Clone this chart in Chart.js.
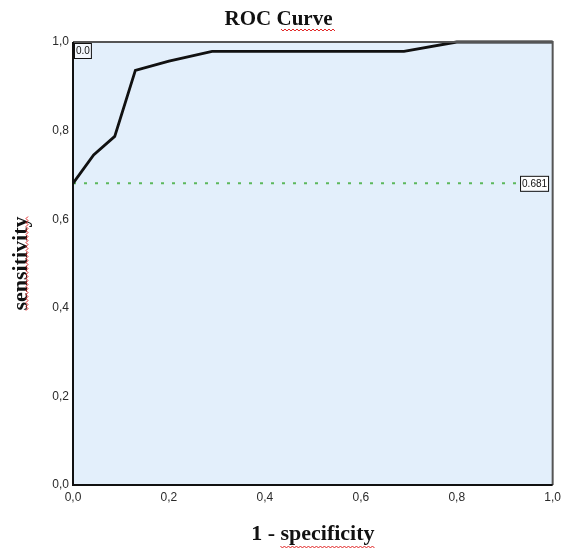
<!DOCTYPE html>
<html>
<head>
<meta charset="utf-8">
<script src="https://cdn.jsdelivr.net/npm/chart.js@4"></script>
<style>
  html, body { margin: 0; padding: 0; background: #fff; }
  #wrap { width: 566px; height: 549px; }
</style>
</head>
<body>
<div id="wrap"><canvas id="rocChart" width="566" height="549"></canvas></div>
<script>
// ROC points
const fprValues = [0, 0.043, 0.087, 0.13, 0.2, 0.29, 0.69, 0.8, 1.0];
const sensValues = [0.681, 0.745, 0.787, 0.936, 0.957, 0.979, 0.979, 1.0, 1.0];

// cut-off reference line and its labels
const cutoffValue = 0.681;
const cutoffEndX = 0.932;
const cornerLabel = "0.0";
const cutoffLabel = "0.681";

const tickLabels = ["0,0", "0,2", "0,4", "0,6", "0,8", "1,0"];

const serif = "'Liberation Serif', 'DejaVu Serif', serif";
const sans = "'Liberation Sans', Arial, sans-serif";

function wavy(ctx, x0, y0, x1, y1) {
  // little red spell-check squiggle
  const len = Math.hypot(x1 - x0, y1 - y0);
  const ux = (x1 - x0) / len, uy = (y1 - y0) / len;
  ctx.save();
  ctx.strokeStyle = "#e02020";
  ctx.lineWidth = 1;
  ctx.beginPath();
  for (let d = 0, i = 0; d <= len; d += 2, i++) {
    const off = i % 2 === 0 ? -1 : 1;
    const px = x0 + ux * d - uy * off;
    const py = y0 + uy * d + ux * off;
    if (i === 0) ctx.moveTo(px, py); else ctx.lineTo(px, py);
  }
  ctx.stroke();
  ctx.restore();
}

function labelBox(ctx, text, x, y, anchor, bg) {
  ctx.save();
  ctx.font = "10px " + sans;
  const w = ctx.measureText(text).width + 3;
  const h = 15;
  let bx = x, by = y;
  if (anchor === "topleft") { bx = x + 1; by = y + 1; }
  if (anchor === "left") { by = y - h / 2; }
  ctx.fillStyle = bg;
  ctx.fillRect(bx, by, w, h);
  ctx.strokeStyle = "#111";
  ctx.lineWidth = 1;
  ctx.strokeRect(bx + 0.5, by + 0.5, w, h);
  ctx.fillStyle = "#111";
  ctx.textBaseline = "middle";
  ctx.fillText(text, bx + 2, by + h / 2 + 1);
  ctx.restore();
}

const plotDecor = {
  id: "plotDecor",
  beforeDraw(chart) {
    const { ctx, chartArea: a } = chart;
    ctx.save();
    ctx.fillStyle = "#e3effb";
    ctx.fillRect(a.left, a.top, a.right - a.left, a.bottom - a.top);
    ctx.restore();
  },
  afterDraw(chart) {
    const { ctx, chartArea: a, scales } = chart;
    ctx.save();
    ctx.strokeStyle = "#555";
    ctx.lineWidth = 2;
    ctx.beginPath();
    ctx.moveTo(a.left, a.top);
    ctx.lineTo(a.right, a.top);
    ctx.lineTo(a.right, a.bottom);
    ctx.stroke();
    ctx.strokeStyle = "#111";
    ctx.beginPath();
    ctx.moveTo(a.left, a.top);
    ctx.lineTo(a.left, a.bottom);
    ctx.lineTo(a.right, a.bottom);
    ctx.stroke();
    ctx.restore();

    labelBox(ctx, cornerLabel, scales.x.getPixelForValue(0), scales.y.getPixelForValue(1), "topleft", "#f4f8fd");
    labelBox(ctx, cutoffLabel, scales.x.getPixelForValue(cutoffEndX), scales.y.getPixelForValue(cutoffValue), "left", "#fff");

    // squiggles under the words a spell checker would flag
    ctx.save();
    ctx.font = "bold 21px " + serif;
    const tw = ctx.measureText("ROC Curve").width;
    const cw = ctx.measureText("Curve").width;
    const tb = chart.titleBlock;
    const tx = chart.width / 2 + tw / 2;
    wavy(ctx, tx - cw, tb.top + 8 + 22, tx, tb.top + 8 + 22);
    ctx.font = "bold 22px " + serif;
    const sw = ctx.measureText("sensitivity").width;
    const yMid = (scales.y.top + scales.y.bottom) / 2;
    wavy(ctx, 27, yMid + sw / 2, 27, yMid - sw / 2);
    const xw = ctx.measureText("1 - specificity").width;
    const pw = ctx.measureText("specificity").width;
    const xEnd = (scales.x.left + scales.x.right) / 2 + xw / 2;
    wavy(ctx, xEnd - pw, 547, xEnd, 547);
    ctx.restore();
  }
};

const ctx = document.getElementById("rocChart").getContext("2d");
new Chart(ctx, {
  type: "line",
  data: {
    datasets: [
      {
        label: "ROC",
        data: fprValues.map((x, i) => ({ x: x, y: sensValues[i] })),
        borderColor: "#111",
        borderWidth: 2.8,
        pointRadius: 0,
        tension: 0,
        fill: false,
        clip: 3,
      },
      {
        label: "cut-off",
        data: [{ x: 0, y: cutoffValue }, { x: cutoffEndX, y: cutoffValue }],
        borderColor: "#5cb85c",
        borderWidth: 2,
        borderDash: [3, 8],
        pointRadius: 0,
        fill: false,
      },
    ],
  },
  options: {
    responsive: false,
    animation: false,
    layout: { padding: { left: 0, right: 9, top: 0, bottom: 0 } },
    plugins: {
      legend: { display: false },
      tooltip: { enabled: false },
      title: {
        display: true,
        text: "ROC Curve",
        color: "#111",
        font: { family: serif, size: 21, weight: "bold" },
        padding: { top: 7, bottom: 9.8 },
      },
    },
    scales: {
      x: {
        type: "linear",
        min: 0,
        max: 1,
        afterFit: (s) => { s.height = 64; },
        grid: { display: false, drawTicks: false },
        border: { display: false },
        ticks: {
          stepSize: 0.2,
          padding: 5,
          color: "#2a2a2a",
          font: { family: sans, size: 12 },
          callback: (v, i) => tickLabels[i],
        },
        title: {
          display: true,
          text: "1 - specificity",
          color: "#111",
          font: { family: serif, size: 22, weight: "bold" },
          padding: { top: 0, bottom: 1 },
        },
      },
      y: {
        type: "linear",
        min: 0,
        max: 1,
        afterFit: (s) => { s.width = 73; },
        grid: { display: false, drawTicks: false },
        border: { display: false },
        ticks: {
          stepSize: 0.2,
          padding: 4,
          color: "#2a2a2a",
          font: { family: sans, size: 12 },
          callback: (v, i) => tickLabels[i],
        },
        title: {
          display: true,
          text: "sensitivity",
          color: "#111",
          font: { family: serif, size: 22, weight: "bold" },
          padding: { top: 8, bottom: 0 },
        },
      },
    },
  },
  plugins: [plotDecor],
});
</script>
</body>
</html>
